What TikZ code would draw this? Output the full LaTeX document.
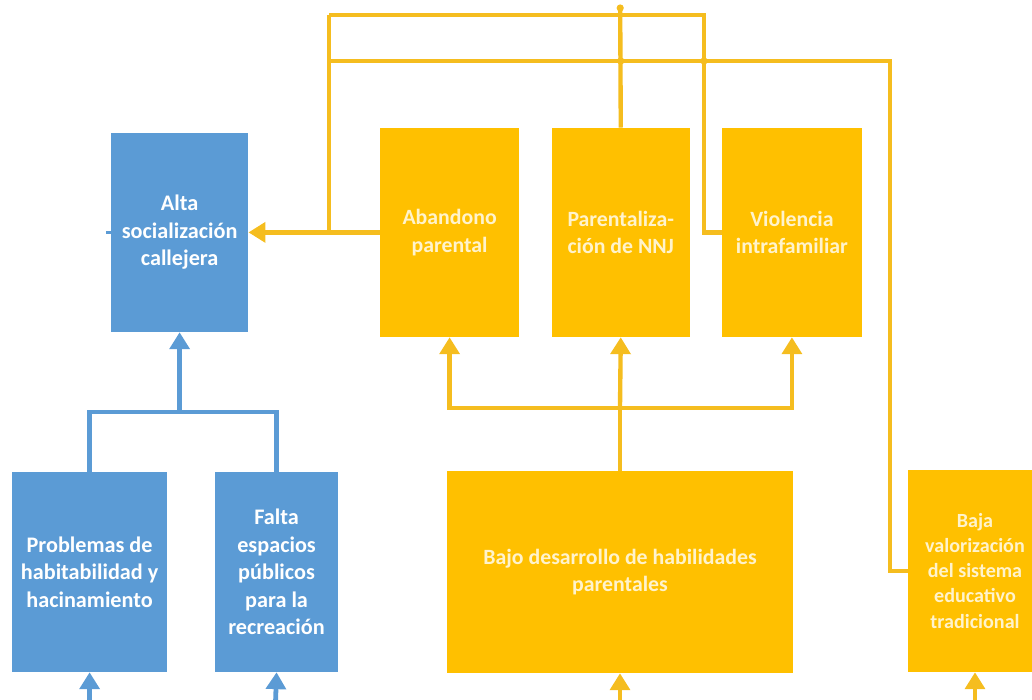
\documentclass[tikz,border=0pt]{standalone}
\usepackage{fontspec}
\setmainfont{Carlito}
\usetikzlibrary{arrows.meta, positioning}
\definecolor{boxBlue}{HTML}{5B9BD5}
\definecolor{boxGold}{HTML}{FFC000}
\definecolor{lineGold}{HTML}{F5BD1F}
\definecolor{textCream}{HTML}{FFF3CC}

\begin{document}
\begin{tikzpicture}[
    blueBox/.style={rectangle, fill=boxBlue, text=white, align=center, inner sep=0pt,
        font=\bfseries\fontsize{15.8}{19.5}\selectfont},
    goldBox/.style={rectangle, fill=boxGold, text=textCream, align=center, inner sep=0pt,
        font=\bfseries\fontsize{15.5}{19.5}\selectfont},
    blueLine/.style={draw=boxBlue, line width=3.4pt},
    goldLine/.style={draw=lineGold, line width=3.1pt},
    tipIn/.style={-{Triangle[length=12pt, width=14pt]}}
]
\useasboundingbox (0,0) rectangle (25.8,17.5);
\clip (0,0) rectangle (25.8,17.5);

% blue side
\node[blueBox, minimum width=3.43cm, minimum height=4.98cm] (altaSocializacion) at (4.49,11.69) {Alta\\socialización\\callejera};
\node[blueBox, minimum width=3.88cm, minimum height=5cm] (problemasHabitabilidad) at (2.24,3.2) {Problemas de\\habitabilidad y\\hacinamiento};
\node[blueBox, minimum width=3.08cm, minimum height=5cm, right=1.18cm of problemasHabitabilidad] (faltaEspacios) {Falta\\espacios\\públicos\\para la\\recreación};

% gold side
\node[goldBox, minimum width=3.48cm, minimum height=5.23cm] (abandonoParental) at (11.24,11.69) {Abandono\\parental};
\node[goldBox, minimum width=3.45cm, minimum height=5.23cm, right=0.8cm of abandonoParental] (parentalizacion) {Parentaliza-\\ción de NNJ};
\node[goldBox, minimum width=3.48cm, minimum height=5.23cm, right=0.8cm of parentalizacion] (violenciaIntra) {Violencia\\intrafamiliar};
\node[goldBox, minimum width=8.65cm, minimum height=5.05cm] (bajoDesarrollo) at (15.5,3.2) {Bajo desarrollo de habilidades\\parentales};
\node[goldBox, minimum width=3.35cm, minimum height=5.05cm, font=\bfseries\fontsize{14.3}{17.8}\selectfont] (bajaValorizacion) at (24.375,3.225) {Baja\\valorización\\del sistema\\educativo\\tradicional};

\coordinate (blueJoin) at (4.49,7.2);
\coordinate (goldJoin) at (15.5,7.3);
\coordinate (topA) at (8.225,17.125);
\coordinate (topB) at (8.225,15.975);
\coordinate (parentTop) at (15.505,17.3);
\coordinate (problemasIn) at (2.24,0);
\coordinate (faltaIn) at (6.89,0);
\coordinate (bajoIn) at (15.5,0);
\coordinate (bajaIn) at (24.375,0);

% blue connectors
\draw[blueLine] (problemasHabitabilidad.north) |- (blueJoin) -| (faltaEspacios.north);
\draw[blueLine, tipIn] (blueJoin) -- (altaSocializacion.south);
\draw[blueLine, tipIn] (problemasIn) -- (problemasHabitabilidad.south);
\draw[blueLine, tipIn] (faltaIn) -- (faltaEspacios.south);
\draw[draw=boxBlue, line width=2pt] (altaSocializacion.west) -- ++(-0.12,0);

% gold connectors
\draw[goldLine] (bajoDesarrollo.north) -- (goldJoin);
\draw[goldLine, tipIn] (goldJoin) -- (parentalizacion.south);
\draw[goldLine, tipIn] (goldJoin) -| (abandonoParental.south);
\draw[goldLine, tipIn] (goldJoin) -| (violenciaIntra.south);
\draw[goldLine, tipIn] (bajoIn) -- (bajoDesarrollo.south);
\draw[goldLine, tipIn] (bajaIn) -- (bajaValorizacion.south);

\draw[goldLine, tipIn] (abandonoParental.west) -- (altaSocializacion.east);
\draw[goldLine] (topA) -- (topA |- altaSocializacion.east);
\draw[goldLine] (violenciaIntra.west) -- ++(-0.45,0) |- (topA);
\draw[goldLine] (bajaValorizacion.west) -- ++(-0.45,0) |- (topB);
\draw[goldLine] (parentalizacion.north) -- (parentTop);

\fill[lineGold] (parentTop) circle (0.09);
\fill[lineGold] (parentalizacion.north |- topB) circle (0.09);
\fill[lineGold] (17.6,15.975) circle (0.09);

\end{tikzpicture}
\end{document}
